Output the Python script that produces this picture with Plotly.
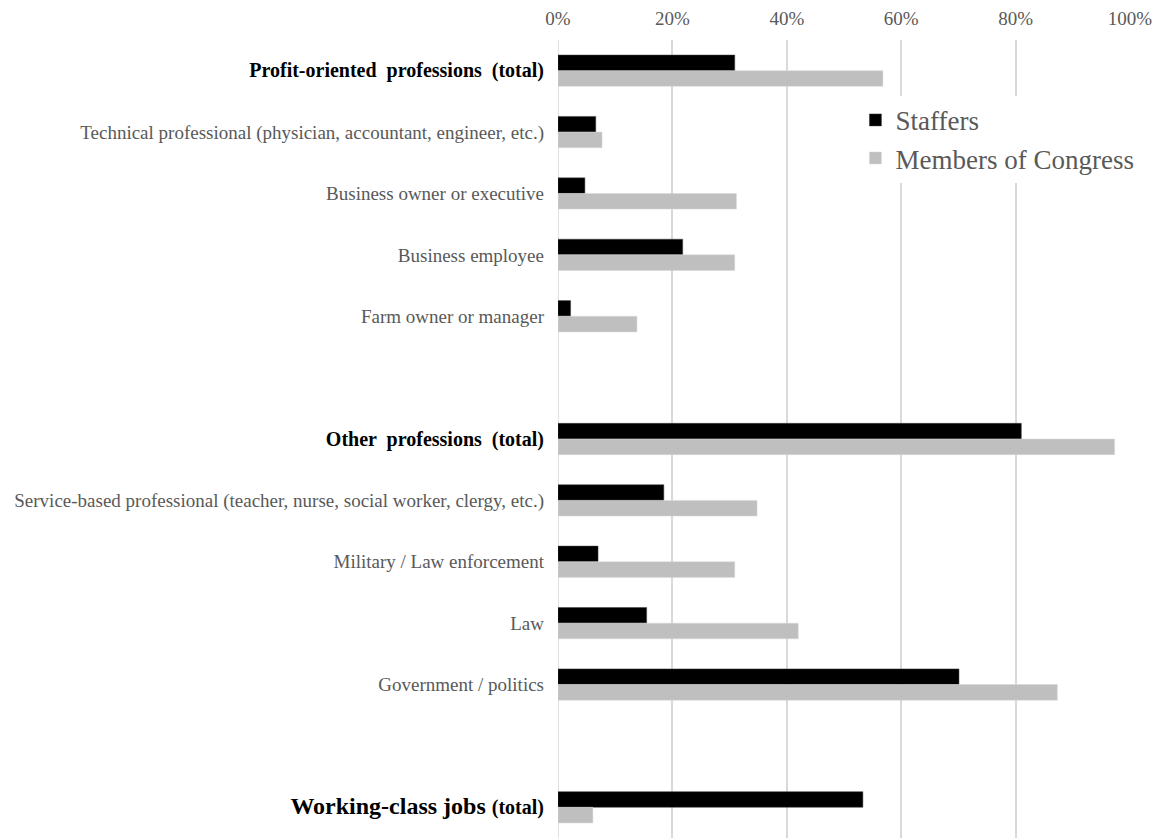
import plotly.graph_objects as go

categories = [
    "Profit-oriented professions (total)",
    "Technical professional (physician, accountant, engineer, etc.)",
    "Business owner or executive",
    "Business employee",
    "Farm owner or manager",
    "Other professions (total)",
    "Service-based professional (teacher, nurse, social worker, clergy, etc.)",
    "Military / Law enforcement",
    "Law",
    "Government / politics",
    "Working-class jobs (total)",
]
# axis order top-to-bottom, with blank spacer rows between groups
category_order = [
    categories[0], categories[1], categories[2], categories[3], categories[4],
    " ",
    categories[5], categories[6], categories[7], categories[8], categories[9],
    "  ",
    categories[10],
]
staffers = [30.9, 6.6, 4.7, 21.8, 2.2, 81.0, 18.5, 7.0, 15.5, 70.1, 53.3]
members = [56.8, 7.7, 31.2, 30.9, 13.8, 97.3, 34.8, 30.9, 42.0, 87.3, 6.1]
x_ticks = [0, 20, 40, 60, 80, 100]
x_tick_labels = ["0%", "20%", "40%", "60%", "80%", "100%"]

bold_labels = {
    categories[0]: "<span style='font-size:20px'><b>Profit-oriented  professions  (total)</b></span>",
    categories[5]: "<span style='font-size:20px'><b>Other  professions  (total)</b></span>",
    categories[10]: "<span style='font-size:24px'><b>Working-class jobs </b></span><span style='font-size:20px'><b>(total)</b></span>",
}
tick_text = []
for c in category_order:
    if c in bold_labels:
        tick_text.append("<span style='color:#000000'>" + bold_labels[c] + "</span>")
    else:
        tick_text.append(c)

fig = go.Figure()
fig.add_trace(go.Bar(
    name="Staffers", y=categories, x=staffers, orientation="h",
    marker=dict(color="#000000", line=dict(color="#404040", width=0.5)),
))
fig.add_trace(go.Bar(
    name="Members of Congress", y=categories, x=members, orientation="h",
    marker=dict(color="#bfbfbf", line=dict(color="#d9d9d9", width=0.5)),
))

fig.update_layout(
    width=1158, height=838,
    barmode="group", bargap=0.49, bargroupgap=0,
    plot_bgcolor="white", paper_bgcolor="white",
    margin=dict(l=558, r=28, t=40, b=0),
    font=dict(family="Liberation Serif", color="#595959", size=19),
    legend=dict(
        x=0.52, y=0.93, xanchor="left", yanchor="top",
        font=dict(size=27, color="#595959"),
        bgcolor="white", tracegroupgap=0, itemwidth=30,
    ),
    showlegend=True,
)
fig.update_xaxes(
    side="top", range=[0, 100], tickvals=x_ticks, ticktext=x_tick_labels,
    showgrid=True, gridcolor="#d9d9d9", gridwidth=1.5,
    zeroline=False, showline=False, ticks="", ticklabelstandoff=10,
    tickfont=dict(size=19, color="#595959"),
)
fig.update_yaxes(
    type="category", categoryorder="array", categoryarray=category_order,
    tickvals=category_order, ticktext=tick_text,
    autorange="reversed",
    showgrid=False, zeroline=False, showline=False, ticks="",
    ticklabelstandoff=13,
    tickfont=dict(size=19, color="#595959"),
)
fig.add_shape(type="line", xref="x", yref="paper", x0=0, x1=0, y0=0, y1=1,
              line=dict(color="#d9d9d9", width=1.5), layer="below")

fig.write_html("out.html")
